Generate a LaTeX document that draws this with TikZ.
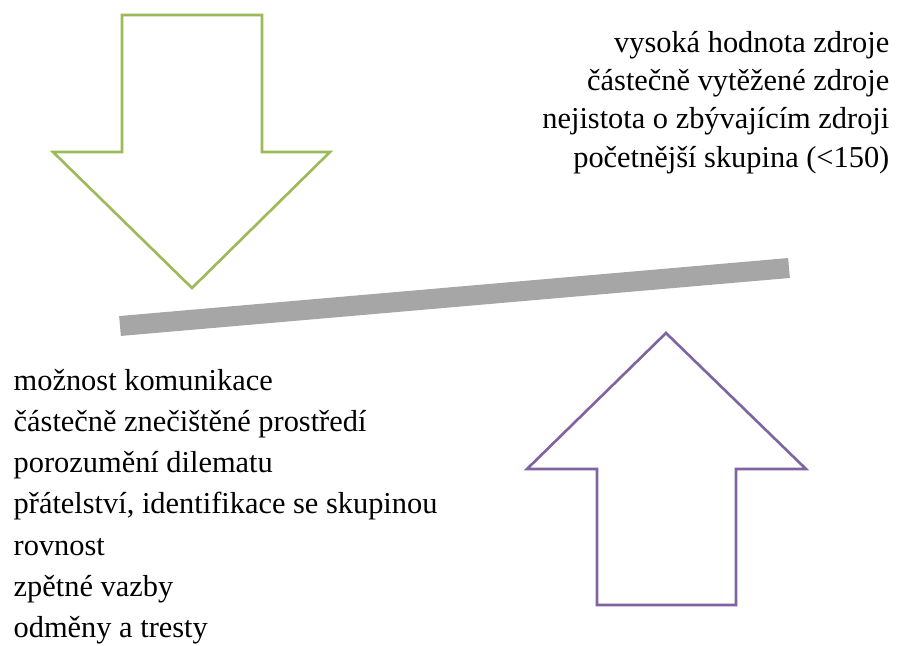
\documentclass[tikz,border=0pt]{standalone}
\usepackage{fontspec}
\setmainfont{Liberation Serif}
\usetikzlibrary{positioning}
\definecolor{arrowgreen}{HTML}{9BBB59}
\definecolor{arrowpurple}{HTML}{8064A2}
\definecolor{bargray}{HTML}{A6A6A6}
\begin{document}
\begin{tikzpicture}[x=0.02cm,y=-0.02cm,
                    thick,big arrow/.style={line width=1.5pt,line join=miter,fill=white},
                    label text/.style={inner sep=0pt,font=\fontsize{17.3}{21}\selectfont}
                   ]
  \useasboundingbox (0,0) rectangle (900,646);

  % downward arrow
  \draw[big arrow,draw=arrowgreen] (122,15) -- (262,15) -- (262,152) -- (330,152)
      -- (192,288) -- (53,152) -- (122,152) -- cycle;

  % upward arrow
  \draw[big arrow,draw=arrowpurple] (666,333) -- (806,469) -- (736,469) -- (736,605)
      -- (597,605) -- (597,469) -- (527,469) -- cycle;

  % the lever
  \coordinate (barL) at (120,326);
  \coordinate (barR) at (789,268);
  \draw[bargray,line width=0.4cm] (barL) -- (barR);

  % text on the right
  \foreach \t [count=\i] in {vysoká hodnota zdroje,
                             částečně vytěžené zdroje,
                             nejistota o zbývajícím zdroji,
                             početnější skupina (<150)}
      \node[label text,anchor=base east] (r\i) at (890,{52+38.4*(\i-1)}) {\t};

  % text on the left
  \foreach \t [count=\i] in {možnost komunikace,
                             částečně znečištěné prostředí,
                             porozumění dilematu,
                             {přátelství, identifikace se skupinou},
                             rovnost,
                             zpětné vazby,
                             odměny a tresty}
      \node[label text,anchor=base west] (l\i) at (13,{390+41.3*(\i-1)}) {\t};
\end{tikzpicture}
\end{document}
